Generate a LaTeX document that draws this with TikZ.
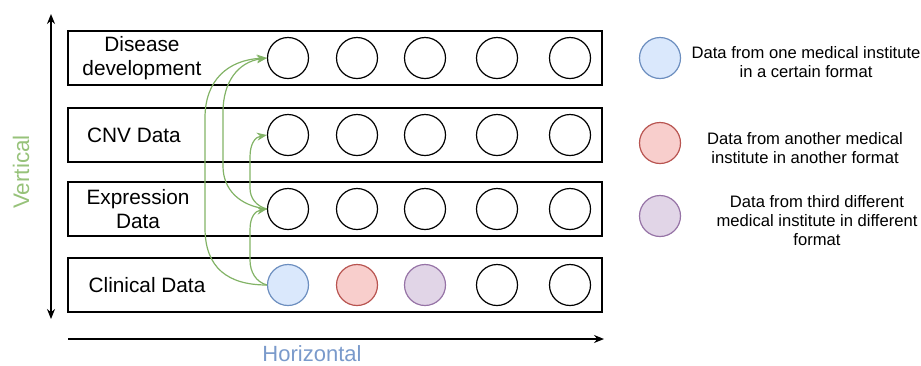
\documentclass[tikz,border=0pt]{standalone}
\usepackage{fontspec}
\setmainfont{Liberation Sans}
\usetikzlibrary{arrows.meta}
\definecolor{gstroke}{HTML}{82B366}
\definecolor{bfill}{HTML}{DAE8FC}
\definecolor{bstroke}{HTML}{6C8EBF}
\definecolor{rfill}{HTML}{F8CECC}
\definecolor{rstroke}{HTML}{B85450}
\definecolor{pfill}{HTML}{E1D5E7}
\definecolor{pstroke}{HTML}{9673A6}
\definecolor{vtext}{HTML}{97C27A}
\definecolor{htext}{HTML}{7A9ACB}
\tikzset{
  rowbox/.style={draw, line width=1.4pt, minimum width=534pt, minimum height=54pt, inner sep=0pt},
  dot/.style={circle, draw, line width=1.2pt, minimum size=41pt, inner sep=0pt},
  bdot/.style={dot, fill=bfill, draw=bstroke},
  rdot/.style={dot, fill=rfill, draw=rstroke},
  pdot/.style={dot, fill=pfill, draw=pstroke},
  rowlabel/.style={font=\fontsize{20.8}{24}\selectfont, align=center},
  legtext/.style={font=\fontsize{16.6}{19}\selectfont, align=center},
  garrow/.style={draw=gstroke, line width=1.2pt, -{Stealth[length=10pt,width=8pt]}},
  axis/.style={line width=1.4pt},
}
\begin{document}
\begin{tikzpicture}[x=1pt, y=-1pt]
\useasboundingbox (0,0) rectangle (921,365);
% row boxes
\node[rowbox] (r1) at (335,58) {};
\node[rowbox] (r2) at (335,135) {};
\node[rowbox] (r3) at (335,209) {};
\node[rowbox] (r4) at (335,285) {};
% labels
\node[rowlabel] (l1) at (142,58) {Disease\\development};
\node[rowlabel] (l2) at (134,135) {CNV Data};
\node[rowlabel] (l3) at (138,209) {Expression\\Data};
\node[rowlabel] (l4) at (147,285) {Clinical Data};
% circles
\foreach \r/\y in {1/58,2/135,3/209}{
  \foreach \c/\x in {1/288,2/357,3/425,4/497,5/570}{
    \node[dot] (c\r\c) at (\x,\y) {};
  }
}
\node[bdot] (c41) at (288,285) {};
\node[rdot] (c42) at (357,285) {};
\node[pdot] (c43) at (425,285) {};
\node[dot] (c44) at (497,285) {};
\node[dot] (c45) at (570,285) {};
% green arrows
\draw[garrow] (c41.west) .. controls (228,285) and (205,268) .. (205,228) -- (205,118) .. controls (205,80) and (228,60) .. (c11.west);
\draw[garrow] (c31.west) .. controls (240,206) and (223,190) .. (223,166) -- (223,112) .. controls (223,82) and (238,62) .. (c11.west);
\draw[garrow] (c41.west) .. controls (256,282) and (250,272) .. (250,260) -- (250,230) .. controls (250,217) and (255,211) .. (c31.west);
\draw[garrow] (c31.west) .. controls (256,206) and (250,198) .. (250,188) -- (250,157) .. controls (250,144) and (255,137) .. (c21.west);
% axes
\coordinate (vt) at (51,14);
\coordinate (vb) at (51,319);
\draw[axis, {Stealth[length=10pt,width=8pt]}-{Stealth[length=10pt,width=8pt]}] (vt) -- (vb);
\coordinate (hl) at (68,339);
\coordinate (hr) at (604,339);
\draw[axis, -{Stealth[length=10pt,width=8pt]}] (hl) -- (hr);
\node[rotate=90, text=vtext, font=\fontsize{22.5}{26}\selectfont] (vlab) at (21,172) {Vertical};
\node[text=htext, font=\fontsize{22}{26}\selectfont, anchor=base, inner sep=0pt] (hlab) at (312,361) {Horizontal};
% legend
\node[bdot] (lg1) at (660,58) {};
\node[rdot] (lg2) at (660,143) {};
\node[pdot] (lg3) at (660,216) {};
\node[legtext] (t1) at (806,62) {Data from one medical institute\\in a certain format};
\node[legtext] (t2) at (805,148) {Data from another medical\\institute in another format};
\node[legtext] (t3) at (817,221) {Data from third different\\medical institute in different\\format};
\end{tikzpicture}
\end{document}
